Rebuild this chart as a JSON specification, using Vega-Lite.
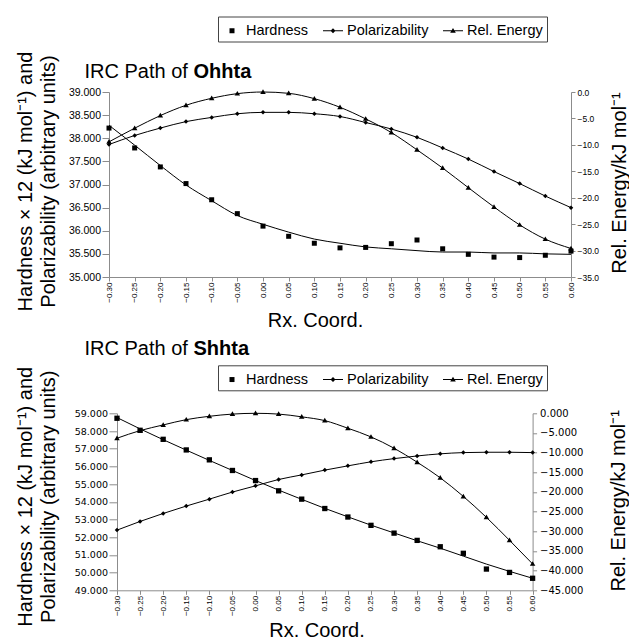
{
  "$schema": "https://vega.github.io/schema/vega-lite/v6.json",
  "background": "white",
  "padding": {"left": 15, "top": 16, "right": 0, "bottom": 0},
  "columns": 1,
  "spacing": 7.3,
  "config": {
    "font": "Liberation Sans",
    "view": {"stroke": null},
    "axis": {"grid": false, "domainColor": "#8c8c8c", "tickColor": "#8c8c8c", "labelColor": "black", "titleColor": "black", "titleFontWeight": "normal", "labelFont": "Liberation Sans", "titleFont": "Liberation Sans"},
    "legend": {"labelFont": "Liberation Sans", "labelColor": "black", "orient": "none", "direction": "horizontal", "title": null, "strokeColor": "#444", "fillColor": "white", "padding": 4, "labelFontSize": 14.5, "labelOffset": 4, "columnPadding": 14, "symbolSize": 400, "symbolFillColor": "black", "symbolStrokeWidth": 0, "symbolOpacity": 1}
  },
  "datasets": {
    "ohhta": [
      {"x": -0.30, "s": "Hardness", "v": 38.22}, {"x": -0.25, "s": "Hardness", "v": 37.79}, {"x": -0.20, "s": "Hardness", "v": 37.38}, {"x": -0.15, "s": "Hardness", "v": 37.02}, {"x": -0.10, "s": "Hardness", "v": 36.67}, {"x": -0.05, "s": "Hardness", "v": 36.37}, {"x": 0.00, "s": "Hardness", "v": 36.10}, {"x": 0.05, "s": "Hardness", "v": 35.88}, {"x": 0.10, "s": "Hardness", "v": 35.73}, {"x": 0.15, "s": "Hardness", "v": 35.63}, {"x": 0.20, "s": "Hardness", "v": 35.64}, {"x": 0.25, "s": "Hardness", "v": 35.72}, {"x": 0.30, "s": "Hardness", "v": 35.80}, {"x": 0.35, "s": "Hardness", "v": 35.61}, {"x": 0.40, "s": "Hardness", "v": 35.49}, {"x": 0.45, "s": "Hardness", "v": 35.43}, {"x": 0.50, "s": "Hardness", "v": 35.42}, {"x": 0.55, "s": "Hardness", "v": 35.47}, {"x": 0.60, "s": "Hardness", "v": 35.56},
      {"x": -0.30, "s": "Hardness fit", "v": 38.28}, {"x": -0.25, "s": "Hardness fit", "v": 37.85}, {"x": -0.20, "s": "Hardness fit", "v": 37.41}, {"x": -0.15, "s": "Hardness fit", "v": 36.99}, {"x": -0.10, "s": "Hardness fit", "v": 36.65}, {"x": -0.05, "s": "Hardness fit", "v": 36.33}, {"x": 0.00, "s": "Hardness fit", "v": 36.14}, {"x": 0.05, "s": "Hardness fit", "v": 35.97}, {"x": 0.10, "s": "Hardness fit", "v": 35.82}, {"x": 0.15, "s": "Hardness fit", "v": 35.73}, {"x": 0.20, "s": "Hardness fit", "v": 35.65}, {"x": 0.25, "s": "Hardness fit", "v": 35.61}, {"x": 0.30, "s": "Hardness fit", "v": 35.57}, {"x": 0.35, "s": "Hardness fit", "v": 35.54}, {"x": 0.40, "s": "Hardness fit", "v": 35.54}, {"x": 0.45, "s": "Hardness fit", "v": 35.52}, {"x": 0.50, "s": "Hardness fit", "v": 35.52}, {"x": 0.55, "s": "Hardness fit", "v": 35.50}, {"x": 0.60, "s": "Hardness fit", "v": 35.49},
      {"x": -0.30, "s": "Polarizability", "v": 37.865}, {"x": -0.25, "s": "Polarizability", "v": 38.06}, {"x": -0.20, "s": "Polarizability", "v": 38.22}, {"x": -0.15, "s": "Polarizability", "v": 38.36}, {"x": -0.10, "s": "Polarizability", "v": 38.45}, {"x": -0.05, "s": "Polarizability", "v": 38.53}, {"x": 0.00, "s": "Polarizability", "v": 38.56}, {"x": 0.05, "s": "Polarizability", "v": 38.56}, {"x": 0.10, "s": "Polarizability", "v": 38.53}, {"x": 0.15, "s": "Polarizability", "v": 38.47}, {"x": 0.20, "s": "Polarizability", "v": 38.34}, {"x": 0.25, "s": "Polarizability", "v": 38.20}, {"x": 0.30, "s": "Polarizability", "v": 38.02}, {"x": 0.35, "s": "Polarizability", "v": 37.79}, {"x": 0.40, "s": "Polarizability", "v": 37.55}, {"x": 0.45, "s": "Polarizability", "v": 37.28}, {"x": 0.50, "s": "Polarizability", "v": 37.02}, {"x": 0.55, "s": "Polarizability", "v": 36.75}, {"x": 0.60, "s": "Polarizability", "v": 36.50},
      {"x": -0.30, "s": "Rel. Energy", "v": -9.43}, {"x": -0.25, "s": "Rel. Energy", "v": -6.85}, {"x": -0.20, "s": "Rel. Energy", "v": -4.46}, {"x": -0.15, "s": "Rel. Energy", "v": -2.51}, {"x": -0.10, "s": "Rel. Energy", "v": -1.19}, {"x": -0.05, "s": "Rel. Energy", "v": -0.31}, {"x": 0.00, "s": "Rel. Energy", "v": 0.0}, {"x": 0.05, "s": "Rel. Energy", "v": -0.25}, {"x": 0.10, "s": "Rel. Energy", "v": -1.26}, {"x": 0.15, "s": "Rel. Energy", "v": -2.89}, {"x": 0.20, "s": "Rel. Energy", "v": -5.09}, {"x": 0.25, "s": "Rel. Energy", "v": -7.67}, {"x": 0.30, "s": "Rel. Energy", "v": -10.94}, {"x": 0.35, "s": "Rel. Energy", "v": -14.39}, {"x": 0.40, "s": "Rel. Energy", "v": -18.10}, {"x": 0.45, "s": "Rel. Energy", "v": -21.75}, {"x": 0.50, "s": "Rel. Energy", "v": -25.14}, {"x": 0.55, "s": "Rel. Energy", "v": -27.84}, {"x": 0.60, "s": "Rel. Energy", "v": -29.6}
    ],
    "shhta": [
      {"x": -0.30, "s": "Hardness", "v": 58.72}, {"x": -0.25, "s": "Hardness", "v": 58.04}, {"x": -0.20, "s": "Hardness", "v": 57.53}, {"x": -0.15, "s": "Hardness", "v": 56.93}, {"x": -0.10, "s": "Hardness", "v": 56.37}, {"x": -0.05, "s": "Hardness", "v": 55.77}, {"x": 0.00, "s": "Hardness", "v": 55.20}, {"x": 0.05, "s": "Hardness", "v": 54.62}, {"x": 0.10, "s": "Hardness", "v": 54.15}, {"x": 0.15, "s": "Hardness", "v": 53.62}, {"x": 0.20, "s": "Hardness", "v": 53.14}, {"x": 0.25, "s": "Hardness", "v": 52.67}, {"x": 0.30, "s": "Hardness", "v": 52.23}, {"x": 0.35, "s": "Hardness", "v": 51.82}, {"x": 0.40, "s": "Hardness", "v": 51.46}, {"x": 0.45, "s": "Hardness", "v": 51.09}, {"x": 0.50, "s": "Hardness", "v": 50.20}, {"x": 0.55, "s": "Hardness", "v": 50.01}, {"x": 0.60, "s": "Hardness", "v": 49.68},
      {"x": -0.30, "s": "Hardness fit", "v": 58.76}, {"x": -0.25, "s": "Hardness fit", "v": 58.12}, {"x": -0.20, "s": "Hardness fit", "v": 57.51}, {"x": -0.15, "s": "Hardness fit", "v": 56.92}, {"x": -0.10, "s": "Hardness fit", "v": 56.34}, {"x": -0.05, "s": "Hardness fit", "v": 55.77}, {"x": 0.00, "s": "Hardness fit", "v": 55.20}, {"x": 0.05, "s": "Hardness fit", "v": 54.66}, {"x": 0.10, "s": "Hardness fit", "v": 54.14}, {"x": 0.15, "s": "Hardness fit", "v": 53.63}, {"x": 0.20, "s": "Hardness fit", "v": 53.15}, {"x": 0.25, "s": "Hardness fit", "v": 52.68}, {"x": 0.30, "s": "Hardness fit", "v": 52.24}, {"x": 0.35, "s": "Hardness fit", "v": 51.80}, {"x": 0.40, "s": "Hardness fit", "v": 51.38}, {"x": 0.45, "s": "Hardness fit", "v": 50.93}, {"x": 0.50, "s": "Hardness fit", "v": 50.48}, {"x": 0.55, "s": "Hardness fit", "v": 50.07}, {"x": 0.60, "s": "Hardness fit", "v": 49.68},
      {"x": -0.30, "s": "Polarizability", "v": 52.40}, {"x": -0.25, "s": "Polarizability", "v": 52.89}, {"x": -0.20, "s": "Polarizability", "v": 53.34}, {"x": -0.15, "s": "Polarizability", "v": 53.76}, {"x": -0.10, "s": "Polarizability", "v": 54.15}, {"x": -0.05, "s": "Polarizability", "v": 54.55}, {"x": 0.00, "s": "Polarizability", "v": 54.90}, {"x": 0.05, "s": "Polarizability", "v": 55.26}, {"x": 0.10, "s": "Polarizability", "v": 55.52}, {"x": 0.15, "s": "Polarizability", "v": 55.79}, {"x": 0.20, "s": "Polarizability", "v": 56.03}, {"x": 0.25, "s": "Polarizability", "v": 56.26}, {"x": 0.30, "s": "Polarizability", "v": 56.44}, {"x": 0.35, "s": "Polarizability", "v": 56.59}, {"x": 0.40, "s": "Polarizability", "v": 56.71}, {"x": 0.45, "s": "Polarizability", "v": 56.78}, {"x": 0.50, "s": "Polarizability", "v": 56.80}, {"x": 0.55, "s": "Polarizability", "v": 56.80}, {"x": 0.60, "s": "Polarizability", "v": 56.78},
      {"x": -0.30, "s": "Rel. Energy", "v": -6.34}, {"x": -0.25, "s": "Rel. Energy", "v": -4.40}, {"x": -0.20, "s": "Rel. Energy", "v": -2.96}, {"x": -0.15, "s": "Rel. Energy", "v": -1.61}, {"x": -0.10, "s": "Rel. Energy", "v": -0.76}, {"x": -0.05, "s": "Rel. Energy", "v": -0.2}, {"x": 0.00, "s": "Rel. Energy", "v": 0.0}, {"x": 0.05, "s": "Rel. Energy", "v": -0.2}, {"x": 0.10, "s": "Rel. Energy", "v": -0.9}, {"x": 0.15, "s": "Rel. Energy", "v": -1.86}, {"x": 0.20, "s": "Rel. Energy", "v": -3.80}, {"x": 0.25, "s": "Rel. Energy", "v": -6.0}, {"x": 0.30, "s": "Rel. Energy", "v": -8.88}, {"x": 0.35, "s": "Rel. Energy", "v": -12.43}, {"x": 0.40, "s": "Rel. Energy", "v": -16.40}, {"x": 0.45, "s": "Rel. Energy", "v": -21.13}, {"x": 0.50, "s": "Rel. Energy", "v": -26.46}, {"x": 0.55, "s": "Rel. Energy", "v": -32.29}, {"x": 0.60, "s": "Rel. Energy", "v": -38.29}
    ]
  },
  "concat": [
    {
      "title": {"text": "IRC Path of", "anchor": "start", "frame": "group", "dx": -24.5, "offset": -82, "baseline": "alphabetic", "fontSize": 20, "fontWeight": "normal", "font": "Liberation Sans", "color": "black"},
      "vconcat": [
        {
          "width": 462, "height": 185,
          "title": {"text": "Ohhta", "anchor": "start", "frame": "group", "dx": 84.5, "offset": -82, "baseline": "alphabetic", "fontSize": 20, "fontWeight": "bold", "font": "Liberation Sans", "color": "black"},
          "data": {"name": "ohhta"},
          "encoding": {
            "x": {"field": "x", "type": "quantitative", "scale": {"domain": [-0.3, 0.6], "nice": false, "zero": false},
              "axis": {"values": [-0.3, -0.25, -0.2, -0.15, -0.1, -0.05, 0, 0.05, 0.1, 0.15, 0.2, 0.25, 0.3, 0.35, 0.4, 0.45, 0.5, 0.55, 0.6], "format": ".2f", "labelAngle": 270, "labelFontSize": 8, "tickSize": 4, "labelPadding": 1, "title": "Rx. Coord.", "titleFontSize": 20, "titleX": 206, "titleY": 49.4, "titleBaseline": "alphabetic", "titleAlign": "center"}}
          },
          "layer": [
            {
              "encoding": {"y": {"field": "v", "type": "quantitative", "scale": {"domain": [35, 39], "nice": false, "zero": false},
                "axis": {"orient": "left", "values": [35, 35.5, 36, 36.5, 37, 37.5, 38, 38.5, 39], "format": ".3f", "labelFontSize": 10.5, "tickSize": 7, "labelPadding": 1.5, "title": ["Hardness × 12 (kJ mol⁻¹) and", "Polarizability (arbitrary units)"], "titleFontSize": 20, "titleLineHeight": 23, "titlePadding": 10, "titleY": 89}}},
              "layer": [
                {"transform": [{"filter": "datum.s === 'Polarizability' || datum.s === 'Hardness fit'"}],
                 "mark": {"type": "line", "interpolate": "monotone", "color": "black", "strokeWidth": 1},
                 "encoding": {"detail": {"field": "s"}}},
                {"transform": [{"filter": "datum.s === 'Hardness'"}],
                 "mark": {"type": "point", "filled": true, "color": "black", "opacity": 1, "size": 400, "shape": "M-0.25,-0.25H0.25V0.25H-0.25Z"}},
                {"transform": [{"filter": "datum.s === 'Polarizability'"}],
                 "mark": {"type": "point", "filled": true, "color": "black", "opacity": 1, "size": 324, "shape": "M0,-0.25L0.25,0L0,0.25L-0.25,0Z"}},
                {"transform": [{"filter": "datum.s === 'Hardness' || datum.s === 'Polarizability'"}],
                 "mark": {"type": "point", "filled": true, "color": "black", "opacity": 1, "size": 0},
                 "encoding": {"shape": {"field": "s", "type": "nominal", "scale": {"domain": ["Hardness", "Polarizability", "Rel. Energy"], "range": ["M-0.25,-0.25H0.25V0.25H-0.25Z", "M-1,-0.05H1V0.05H-1ZM0,-0.25L0.25,0L0,0.25L-0.25,0Z", "M-1,-0.05H1V0.05H-1ZM0,-0.28L0.28,0.2L-0.28,0.2Z"]}, "legend": {"legendX": 109, "legendY": -75.5}}}}
              ]
            },
            {
              "encoding": {"y": {"field": "v", "type": "quantitative", "scale": {"domain": [-35, 0], "nice": false, "zero": false},
                "axis": {"orient": "right", "values": [-35, -30, -25, -20, -15, -10, -5, 0], "format": ".1f", "labelFontSize": 8.5, "tickSize": 4, "labelPadding": 2, "title": "Rel. Energy/kJ mol⁻¹", "titleFontSize": 20, "titleAngle": 270, "titleBaseline": "top", "titleAlign": "center", "titleX": 38, "titleY": 90.5}}},
              "layer": [
                {"transform": [{"filter": "datum.s === 'Rel. Energy'"}],
                 "mark": {"type": "line", "interpolate": "monotone", "color": "black", "strokeWidth": 1},
                 "encoding": {}},
                {"transform": [{"filter": "datum.s === 'Rel. Energy'"}],
                 "mark": {"type": "point", "filled": true, "color": "black", "opacity": 1, "size": 386, "shape": "M0,-0.28L0.28,0.2L-0.28,0.2Z"}}
              ]
            }
          ],
          "resolve": {"scale": {"y": "independent"}}
        }
      ],
      "resolve": {"scale": {"x": "independent", "y": "independent", "shape": "independent"}, "legend": {"shape": "independent"}}
    },
    {
      "title": {"text": "IRC Path of", "anchor": "start", "frame": "group", "dx": -24.5, "offset": -36, "baseline": "alphabetic", "fontSize": 20, "fontWeight": "normal", "font": "Liberation Sans", "color": "black"},
      "vconcat": [
        {
          "width": 423.6, "height": 177,
          "title": {"text": "Shhta", "anchor": "start", "frame": "group", "dx": 84.5, "offset": -10, "baseline": "alphabetic", "fontSize": 20, "fontWeight": "bold", "font": "Liberation Sans", "color": "black"},
          "data": {"name": "shhta"},
          "encoding": {
            "x": {"field": "x", "type": "quantitative", "scale": {"domain": [-0.3, 0.6], "nice": false, "zero": false, "range": [8, 423.6]},
              "axis": {"values": [-0.3, -0.25, -0.2, -0.15, -0.1, -0.05, 0, 0.05, 0.1, 0.15, 0.2, 0.25, 0.3, 0.35, 0.4, 0.45, 0.5, 0.55, 0.6], "format": ".2f", "labelAngle": 270, "labelFontSize": 8, "tickSize": 4, "labelPadding": 1, "title": "Rx. Coord.", "titleFontSize": 20, "titleX": 207.5, "titleY": 46.3, "titleBaseline": "alphabetic", "titleAlign": "center"}}
          },
          "layer": [
            {
              "encoding": {"y": {"field": "v", "type": "quantitative", "scale": {"domain": [49, 59], "nice": false, "zero": false},
                "axis": {"orient": "left", "offset": -8, "values": [49, 50, 51, 52, 53, 54, 55, 56, 57, 58, 59], "format": ".3f", "labelFont": "DejaVu Sans", "labelFontSize": 9.5, "tickSize": 8, "labelPadding": 1.5, "title": ["Hardness × 12 (kJ mol⁻¹) and", "Polarizability (arbitrary units)"], "titleFontSize": 20, "titleLineHeight": 23, "titlePadding": 15.8, "titleY": 83}}},
              "layer": [
                {"transform": [{"filter": "datum.s === 'Polarizability' || datum.s === 'Hardness fit'"}],
                 "mark": {"type": "line", "interpolate": "monotone", "color": "black", "strokeWidth": 1},
                 "encoding": {"detail": {"field": "s"}}},
                {"transform": [{"filter": "datum.s === 'Hardness'"}],
                 "mark": {"type": "point", "filled": true, "color": "black", "opacity": 1, "size": 450, "shape": "M-0.25,-0.25H0.25V0.25H-0.25Z"}},
                {"transform": [{"filter": "datum.s === 'Polarizability'"}],
                 "mark": {"type": "point", "filled": true, "color": "black", "opacity": 1, "size": 324, "shape": "M0,-0.25L0.25,0L0,0.25L-0.25,0Z"}},
                {"transform": [{"filter": "datum.s === 'Hardness' || datum.s === 'Polarizability'"}],
                 "mark": {"type": "point", "filled": true, "color": "black", "opacity": 1, "size": 0},
                 "encoding": {"shape": {"field": "s", "type": "nominal", "scale": {"domain": ["Hardness", "Polarizability", "Rel. Energy"], "range": ["M-0.25,-0.25H0.25V0.25H-0.25Z", "M-1,-0.05H1V0.05H-1ZM0,-0.25L0.25,0L0,0.25L-0.25,0Z", "M-1,-0.05H1V0.05H-1ZM0,-0.28L0.28,0.2L-0.28,0.2Z"]}, "legend": {"legendX": 109, "legendY": -48}}}}
              ]
            },
            {
              "encoding": {"y": {"field": "v", "type": "quantitative", "scale": {"domain": [-45, 0], "nice": false, "zero": false},
                "axis": {"orient": "right", "values": [-45, -40, -35, -30, -25, -20, -15, -10, -5, 0], "format": ".3f", "labelFont": "DejaVu Sans", "labelFontSize": 10, "tickSize": 4, "labelPadding": 3, "title": "Rel. Energy/kJ mol⁻¹", "titleFontSize": 20, "titleAngle": 270, "titleBaseline": "top", "titleAlign": "center", "titleX": 76, "titleY": 87}}},
              "layer": [
                {"transform": [{"filter": "datum.s === 'Rel. Energy'"}],
                 "mark": {"type": "line", "interpolate": "monotone", "color": "black", "strokeWidth": 1},
                 "encoding": {}},
                {"transform": [{"filter": "datum.s === 'Rel. Energy'"}],
                 "mark": {"type": "point", "filled": true, "color": "black", "opacity": 1, "size": 386, "shape": "M0,-0.28L0.28,0.2L-0.28,0.2Z"}}
              ]
            }
          ],
          "resolve": {"scale": {"y": "independent"}}
        }
      ],
      "resolve": {"scale": {"x": "independent", "y": "independent", "shape": "independent"}, "legend": {"shape": "independent"}}
    }
  ],
  "resolve": {"scale": {"x": "independent", "y": "independent", "shape": "independent"}, "legend": {"shape": "independent"}}
}
